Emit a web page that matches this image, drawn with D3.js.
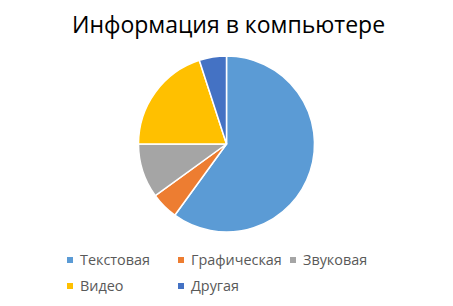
<!DOCTYPE html>
<html><head><meta charset="utf-8">
<script src="https://cdn.jsdelivr.net/npm/d3@7"></script>
<style>body{margin:0;background:#fff}svg{display:block}</style>
</head><body>
<svg id="c" width="453" height="306"></svg>
<script>
const categories = ["Текстовая","Графическая","Звуковая","Видео","Другая"];
const values = [60,5,10,20,5];
const colors = ["#5B9BD5","#ED7D31","#A5A5A5","#FFC000","#4472C4"];
const title = "Информация в компьютере";

const svg = d3.select("#c");
const font = "'Open Sans', 'Noto Sans', sans-serif";
svg.append("text").attr("x",228.5).attr("y",33).attr("text-anchor","middle")
  .attr("font-family",font).attr("font-size",23).attr("fill","#000").text(title);

const pie = d3.pie().sort(null).value(d=>d)(values);
const arc = d3.arc().innerRadius(0).outerRadius(88);
const g = svg.append("g").attr("transform","translate(226.5,144)");
g.selectAll("path").data(pie).join("path")
  .attr("d",arc).attr("fill",(d,i)=>colors[i])
  .attr("stroke","#fff").attr("stroke-width",1.5).attr("stroke-linejoin","round");

const lx = [67,178,290,67,178];
const ly = [260,260,260,286,286];
const lg = svg.append("g");
categories.forEach((c,i)=>{
  lg.append("rect").attr("x",lx[i]).attr("y",ly[i]-3).attr("width",6).attr("height",6).attr("fill",colors[i]);
  lg.append("text").attr("x",lx[i]+13).attr("y",ly[i]+5).attr("font-family",font)
    .attr("font-size",14.4).attr("fill","#595959").text(c);
});
</script>
</body></html>
